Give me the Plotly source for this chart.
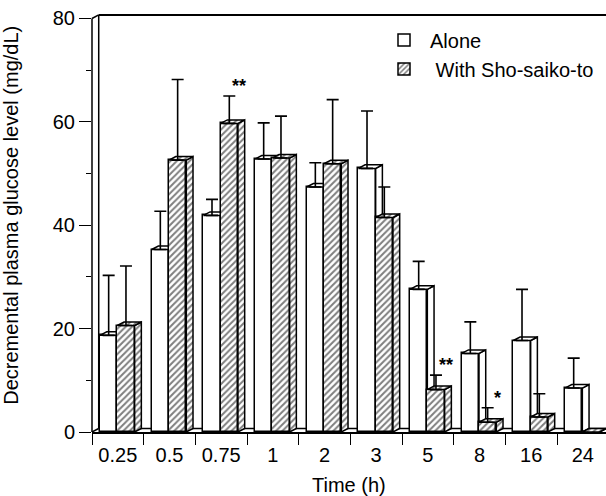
import plotly.graph_objects as go

# ---- data ----
times = ["0.25", "0.5", "0.75", "1", "2", "3", "5", "8", "16", "24"]
alone = [18.7, 35.3, 41.9, 52.8, 47.4, 51.0, 27.6, 15.2, 17.7, 8.5]
alone_sd = [11.6, 7.4, 3.1, 7.0, 4.7, 11.1, 5.4, 6.1, 9.9, 5.8]
with_sst = [20.6, 52.6, 59.7, 53.0, 51.9, 41.5, 8.2, 1.9, 2.9, 0.0]
with_sd = [11.5, 15.6, 5.3, 8.1, 12.4, 5.9, 2.8, 2.8, 4.5, None]
sig_index = [2, 6, 7]
sig_text = ["**", "**", "*"]

# ---- style ----
FONT = "Liberation Sans, Arial, Helvetica, sans-serif"
AO, WO, W = -0.345, -0.01, 0.335     # bar offsets / width (category units)
DX, DY = 0.13, 0.68                  # 3-D depth offsets (x units, y units)
XR = [-0.5, 9.448]
YR = [0, 82.8]
LW = 1.5
pos = list(range(len(times)))


def side_faces(vals, off):
    xs, ys = [], []
    for i, v in zip(pos, vals):
        x1 = i + off + W
        xs += [x1, x1 + DX, x1 + DX, x1, x1, None]
        ys += [0, DY, v + DY, v, 0, None]
    return xs, ys


def top_faces(vals, off):
    xs, ys = [], []
    for i, v in zip(pos, vals):
        x0 = i + off
        x1 = x0 + W
        xs += [x0, x0 + DX, x1 + DX, x1, x0, None]
        ys += [v, v + DY, v + DY, v, v, None]
    return xs, ys


hatch = dict(shape="/", fgcolor="black", bgcolor="white", size=4.5, solidity=0.45)

fig = go.Figure()

# Alone (base subplot)
fig.add_trace(go.Bar(x=pos, y=alone, offset=AO, width=W, name="Alone",
                     marker=dict(color="white", line=dict(color="black", width=LW)),
                     xaxis="x", yaxis="y"))
sx, sy = side_faces(alone, AO)
fig.add_trace(go.Scatter(x=sx, y=sy, mode="lines", fill="toself", fillcolor="white",
                         line=dict(color="black", width=LW), showlegend=False,
                         hoverinfo="skip", xaxis="x", yaxis="y"))
tx, ty = top_faces(alone, AO)
fig.add_trace(go.Scatter(x=tx, y=ty, mode="lines", fill="toself", fillcolor="white",
                         line=dict(color="black", width=LW), showlegend=False,
                         hoverinfo="skip", xaxis="x", yaxis="y"))

# With Sho-saiko-to (overlaid subplot, drawn on top)
fig.add_trace(go.Bar(x=pos, y=with_sst, offset=WO, width=W, name="\u00a0With Sho-saiko-to",
                     marker=dict(color="white", line=dict(color="black", width=LW),
                                 pattern=hatch),
                     xaxis="x2", yaxis="y2"))
sx, sy = side_faces(with_sst, WO)
fig.add_trace(go.Scatter(x=sx, y=sy, mode="lines", fill="toself", fillcolor="white",
                         fillpattern=hatch, line=dict(color="black", width=LW),
                         showlegend=False, hoverinfo="skip", xaxis="x2", yaxis="y2"))
tx, ty = top_faces(with_sst, WO)
fig.add_trace(go.Scatter(x=tx, y=ty, mode="lines", fill="toself", fillcolor="white",
                         fillpattern=hatch, line=dict(color="black", width=LW),
                         showlegend=False, hoverinfo="skip", xaxis="x2", yaxis="y2"))

# error bars (upper only), on top of everything
ex, ey, ee = [], [], []
for i in pos:
    ex.append(i + AO + W / 2); ey.append(alone[i]); ee.append(alone_sd[i])
    if with_sd[i] is not None:
        ex.append(i + WO + W / 2); ey.append(with_sst[i]); ee.append(with_sd[i])
fig.add_trace(go.Scatter(x=ex, y=ey, mode="markers", marker=dict(size=1, color="rgba(0,0,0,0)"),
                         error_y=dict(type="data", array=ee, symmetric=False,
                                      arrayminus=[0] * len(ee), color="black",
                                      thickness=1.6, width=6),
                         showlegend=False, hoverinfo="skip", xaxis="x2", yaxis="y2"))

# ---- frame: axis line, back wall, floor ----
wx = DX / (XR[1] - XR[0])
line = dict(color="black", width=LW)
shapes = [
    dict(type="line", xref="paper", yref="y", x0=0, x1=0, y0=0, y1=80, line=line),
    dict(type="line", xref="paper", yref="y", x0=0, x1=wx, y0=80, y1=80 + DY, line=line),
    dict(type="line", xref="paper", yref="y", x0=wx, x1=wx, y0=DY, y1=80 + DY, line=line,
         layer="below"),
    dict(type="line", xref="paper", yref="y", x0=wx, x1=1, y0=80 + DY, y1=80 + DY,
         line=dict(color="black", width=2)),
    dict(type="line", xref="paper", yref="y", x0=wx, x1=1, y0=DY, y1=DY, line=line,
         layer="below"),
    dict(type="line", xref="paper", yref="y", x0=0, x1=wx, y0=0, y1=DY, line=line,
         layer="below"),
]

annotations = [
    dict(text="Time (h)", xref="paper", yref="paper", x=0.5, y=-0.1238,
         xanchor="center", yanchor="middle", showarrow=False,
         font=dict(size=20, color="black", family=FONT)),
    dict(text="Decremental plasma glucose level (mg/dL)", xref="paper", yref="paper",
         x=-0.158, y=0.507, textangle=-90, xanchor="center", yanchor="middle",
         showarrow=False, font=dict(size=20, color="black", family=FONT)),
]
for i, t in zip(sig_index, sig_text):
    annotations.append(dict(text="<b>%s</b>" % t, xref="x", yref="y",
                            x=i + WO + W / 2 + 0.19, y=with_sst[i] + with_sd[i] + 1.9,
                            xanchor="center", yanchor="middle", showarrow=False,
                            font=dict(size=18, color="black", family=FONT)))

fig.update_layout(
    width=606, height=496,
    margin=dict(l=92, r=0, t=4, b=64, pad=0),
    paper_bgcolor="white", plot_bgcolor="white",
    font=dict(family=FONT, size=20, color="black"),
    showlegend=True,
    legend=dict(x=(378 - 92) / 514, y=(432 - 20.5) / 428, xanchor="left", yanchor="top",
                bgcolor="rgba(0,0,0,0)", font=dict(size=20, family=FONT, color="black"),
                traceorder="normal", itemclick=False, itemwidth=42),
    xaxis=dict(range=XR, tickmode="array", tickvals=pos, ticktext=times,
               ticks="outside", ticklen=4, tickcolor="rgba(0,0,0,0)",
               minor=dict(tickmode="array", tickvals=[p - 0.5 for p in pos] + [9.5],
                          ticks="outside", ticklen=11, tickcolor="black", tickwidth=1.2,
                          showgrid=False),
               showline=True, linecolor="black", linewidth=LW, showgrid=False,
               zeroline=False, tickfont=dict(size=20, family=FONT, color="black"),
               fixedrange=True),
    yaxis=dict(range=YR, tickmode="array", tickvals=[0, 20, 40, 60, 80],
               ticks="outside", ticklen=12, tickcolor="black", tickwidth=1.2,
               minor=dict(tickmode="array", tickvals=[10, 30, 50, 70], ticks="outside",
                          ticklen=5, tickcolor="black", tickwidth=1.2, showgrid=False),
               showline=False, showgrid=False, zeroline=False,
               tickfont=dict(size=20, family=FONT, color="black"), fixedrange=True),
    xaxis2=dict(range=XR, overlaying="x", visible=False, fixedrange=True),
    yaxis2=dict(range=YR, overlaying="y", visible=False, fixedrange=True),
    shapes=shapes,
    annotations=annotations,
    bargap=0,
)

fig.write_html("out.html", config={"displayModeBar": False},
               post_script="document.body.style.margin='0px';document.body.style.padding='0px';")
